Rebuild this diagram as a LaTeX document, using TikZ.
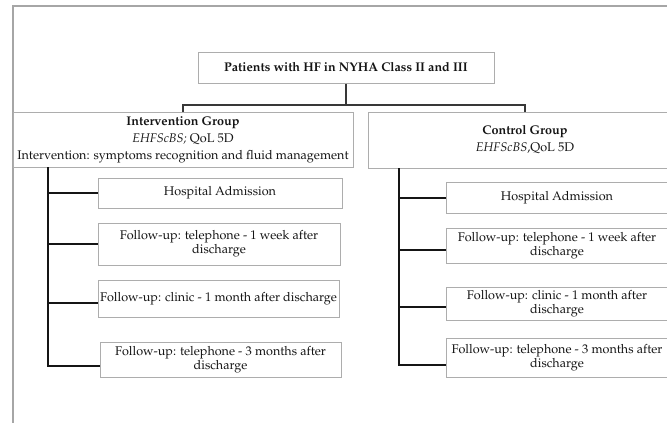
\documentclass[tikz,border=0pt]{standalone}
\usepackage[T1]{fontenc}
\usepackage{mathpazo}
\definecolor{boxgray}{HTML}{ADADAD}
\definecolor{framegray}{HTML}{A6A6A6}
\definecolor{ink}{HTML}{151515}
\tikzset{
  txt/.style={font=\fontsize{12.6}{12.5}\selectfont, text=ink, align=center, inner sep=0pt},
  boxnode/.style={txt, draw=boxgray, line width=1pt},
  groupbox/.style={boxnode, font=\fontsize{12.6}{17}\selectfont},
  conn/.style={draw=ink, line width=1.8pt},
  treeconn/.style={draw=ink!85, line width=1.2pt},
  framel/.style={draw=framegray, line width=1.5pt}
}
\begin{document}
\begin{tikzpicture}[x=1pt,y=-1pt]
\useasboundingbox (0,0) rectangle (667,423);
\clip (0,0) rectangle (667,423);
\fill[white] (0,0) rectangle (667,423);
% frame
\coordinate (fr1) at (13,423);
\coordinate (fr2) at (13,6);
\coordinate (fr3) at (680,6);
\draw[framel] (fr1) -- (fr2) -- (fr3);

% top box
\node[boxnode, font=\bfseries\fontsize{12.6}{12.5}\selectfont, minimum width=296pt, minimum height=31pt] (top) at (346,67.5)
  {Patients with HF in NYHA Class II and III};

% group boxes
\node[groupbox, minimum width=340pt, minimum height=55pt] (ig) at (183,139.5)
  {\textbf{Intervention Group}\\ \textit{EHFScBS;} QoL 5D\\ Intervention: symptoms recognition and fluid management};
\node[groupbox, minimum width=314pt, minimum height=56pt] (cg) at (525,140)
  {\textbf{Control Group}\\ \textit{EHFScBS},QoL 5D};

% left column
\node[boxnode, minimum width=244pt, minimum height=30pt] (L1) at (220,193) {Hospital Admission};
\node[boxnode, minimum width=242pt, minimum height=42pt] (L2) at (219,244) {Follow-up: telephone - 1 week after\\ discharge};
\node[boxnode, minimum width=241pt, minimum height=37pt] (L3) at (218.5,298.5) {Follow-up: clinic - 1 month after discharge};
\node[boxnode, minimum width=241pt, minimum height=35pt] (L4) at (220.5,359.5) {Follow-up: telephone - 3 months after\\ discharge};

% right column
\node[boxnode, minimum width=222pt, minimum height=31pt] (R1) at (557,197.5) {Hospital Admission};
\node[boxnode, minimum width=222pt, minimum height=35pt] (R2) at (557,245.5) {Follow-up: telephone - 1 week after\\ discharge};
\node[boxnode, minimum width=222pt, minimum height=33pt] (R3) at (557,303.5) {Follow-up: clinic - 1 month after\\ discharge};
\node[boxnode, minimum width=222pt, minimum height=39pt] (R4) at (557,357.5) {Follow-up: telephone - 3 months after\\ discharge};

% tree from top box
\draw[treeconn] (top.south) -- (top.south |- 0,105);
\draw[treeconn] (ig.north) -- (ig.north |- 0,105) -| (cg.north);

% left connectors
\coordinate (lv) at (48,167);
\draw[conn] (lv) |- ([yshift=-6.5pt]L4.west);
\draw[conn] (lv |- L1.west) -- (L1.west);
\draw[conn] (lv |- L2.west) -- (L2.west);
\draw[conn] ([yshift=-4.5pt]lv |- L3.west) -- ([yshift=-4.5pt]L3.west);

% right connectors
\coordinate (rv) at (399,168);
\draw[conn] (rv) |- ([yshift=-7.5pt]R4.west);
\draw[conn] ([yshift=-0.5pt]rv |- R1.west) -- ([yshift=-0.5pt]R1.west);
\draw[conn] ([yshift=-4.5pt]rv |- R2.west) -- ([yshift=-4.5pt]R2.west);
\draw[conn] ([yshift=-3.5pt]rv |- R3.west) -- ([yshift=-3.5pt]R3.west);
\end{tikzpicture}
\end{document}
